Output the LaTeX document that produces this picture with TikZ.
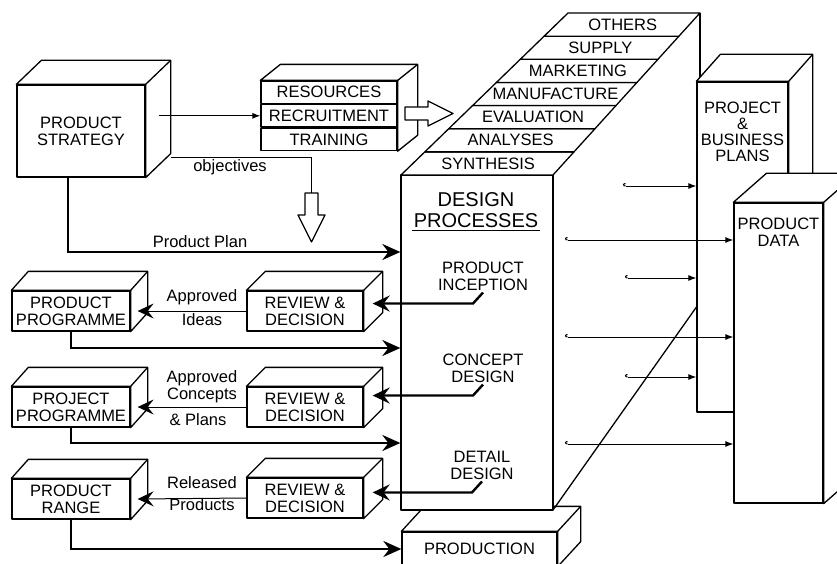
\documentclass[tikz,border=0pt]{standalone}
\usepackage{fontspec}
\setmainfont{Liberation Sans}
\usetikzlibrary{arrows.meta,calc,positioning}
\newcommand\regsize{\fontsize{16.5}{17}\selectfont}
\newcommand\titlesize{\fontsize{20}{21}\selectfont}
\tikzset{>=Stealth,
  every node/.style={font=\regsize,align=center,inner sep=2pt},
  boxline/.style={line width=1.3pt,line join=round},
  frontface/.style={boxline,draw,fill=white},
  rowbox/.style={boxline,draw,fill=white,minimum width=136,minimum height=22.3,inner sep=0pt},
  hollow/.style={boxline,draw,fill=white},
  flow/.style={line width=2.4pt,-{Stealth[length=18pt,width=16pt,inset=6pt]}},
  ret/.style={line width=2.4pt,-{Stealth[length=17pt,width=16pt,inset=6pt]}},
  back/.style={line width=1pt,-{Stealth[length=16pt,width=15pt,inset=6pt]}},
  link/.style={line width=1pt,-{Latex[length=8pt,width=6pt]}},
  feed/.style={line width=1pt,{Hooks[right,length=2.5pt,width=6pt]}-{Latex[length=8pt,width=6pt]}}}
% top and side faces behind a front face (top node, bottom node, depth)
\newcommand\boxsides[4]{%
  \draw[boxline,fill=white] (#1.north west) -- ++(#3,#4) -- ($(#1.north east)+(#3,#4)$)
    -- ($(#2.south east)+(#3,#4)$) -- (#2.south east) -- (#1.north east) -- cycle;
  \draw[boxline] (#1.north east) -- ++(#3,#4);}
\begin{document}
\begin{tikzpicture}[x=1pt,y=-1pt]
\useasboundingbox (0,0) rectangle (837,564);

% production slab
\node[frontface,minimum width=155,minimum height=34] (prod) at (479.5,549) {PRODUCTION};
\boxsides{prod}{prod}{23}{-25}

% design processes block with its layers
\draw[boxline] (553,510) -- (712,285);
\draw[boxline] (700,13) -- (700,100);
\node[frontface,minimum width=152,minimum height=335] (dp) at (477,342.5) {};
\foreach \lab [count=\i from 0] in {SYNTHESIS,ANALYSES,EVALUATION,MANUFACTURE,MARKETING,SUPPLY,OTHERS}{
  \pgfmathsetmacro\yb{175-23.14*\i}
  \pgfmathsetmacro\yt{\yb-23.14}
  \pgfmathsetmacro\ym{(\yb+\yt)/2}
  \draw[boxline,fill=white] ({401+1.031*(175-\yb)},\yb) -- ({401+1.031*(175-\yt)},\yt)
    -- ({553+0.907*(175-\yt)},\yt) -- ({553+0.907*(175-\yb)},\yb) -- cycle;
  \node (layer\i) at ({477+0.969*(175-\ym)},\ym) {\lab};
}
\node[font=\titlesize] (dptitle) at (476,210) {DESIGN\\PROCESSES};
\draw[boxline] ([yshift=-1pt]dptitle.south west) -- ([yshift=-1pt]dptitle.south east);
\node (incep) at (483,276) {PRODUCT\\INCEPTION};
\node (cdes) at (483,368) {CONCEPT\\DESIGN};
\node (ddes) at (482,465) {DETAIL\\DESIGN};

% plans and data
\node[frontface,minimum width=91,minimum height=330] (pbp) at (742.5,247) {};
\boxsides{pbp}{pbp}{24}{-27}
\node[anchor=north,font=\fontsize{16.5}{16}\selectfont] (pbptxt) at ([yshift=-18pt]pbp.north) {PROJECT\\\&\\BUSINESS\\PLANS};
\node[frontface,minimum width=89,minimum height=300] (pd) at (778.5,353) {};
\boxsides{pd}{pd}{33}{-29}
\node[anchor=north] (pdtxt) at ([yshift=-13pt]pd.north) {PRODUCT\\DATA};

% strategy and resources
\node[frontface,minimum width=128,minimum height=92] (ps) at (81,131) {PRODUCT\\STRATEGY};
\boxsides{ps}{ps}{25}{-24}
\node[rowbox] (res1) at (329,92.2) {RESOURCES};
\node[rowbox,below=0pt of res1] (res2) {RECRUITMENT};
\node[rowbox,below=0pt of res2] (res3) {TRAINING};
\boxsides{res1}{res3}{20}{-16}
\draw[hollow] (405,107) -- (428,107) -- (428,101) -- (453,113.5) -- (428,126) -- (428,120) -- (405,120) -- cycle;

% programme boxes and reviews
\node[frontface,minimum width=118,minimum height=40] (pp) at (71,311) {PRODUCT\\PROGRAMME};
\boxsides{pp}{pp}{17}{-19}
\node[frontface,minimum width=116,minimum height=40] (rd1) at (305,311) {REVIEW \&\\DECISION};
\boxsides{rd1}{rd1}{19}{-19}
\node[frontface,minimum width=118,minimum height=40] (pj) at (71,407) {PROJECT\\PROGRAMME};
\boxsides{pj}{pj}{17}{-19}
\node[frontface,minimum width=116,minimum height=40] (rd2) at (305,407) {REVIEW \&\\DECISION};
\boxsides{rd2}{rd2}{19}{-19}
\node[frontface,minimum width=118,minimum height=40] (pr) at (71,499) {PRODUCT\\RANGE};
\boxsides{pr}{pr}{17}{-19}
\node[frontface,minimum width=116,minimum height=40] (rd3) at (305,498) {REVIEW \&\\DECISION};
\boxsides{rd3}{rd3}{19}{-19}

% strategy links
\draw[link] ([xshift=13pt]ps.east |- res2.west) -- (res2.west);
\coordinate (objtip) at (311.5,193);
\draw[line width=1pt] ($(ps.south east)+(25,-20)$) -| (objtip);
\draw[hollow] (305,193) -- (318,193) -- (318,215) -- (325,215) -- (311.5,242) -- (298,215) -- (305,215) -- cycle;
\node (objlab) at (230,167) {objectives};
\draw[flow] ([xshift=-13pt]ps.south) |- (dp.west |- 0,252);
\node (pplab) at (200,242) {Product Plan};

% flows into design processes
\draw[flow] (pp.south) |- (dp.west |- 0,348);
\draw[flow] (pj.south) |- (dp.west |- 0,443);
\draw[flow] (pr.south) |- (prod.west);

% decisions back out
\draw[ret] (incep.south) -- ++(-10,11) coordinate (k1) -- ([xshift=9pt]k1 -| rd1.east);
\draw[ret] (cdes.south) -- ++(-10,11) coordinate (k2) -- ([xshift=9pt]k2 -| rd2.east);
\draw[ret] (ddes.south) -- ++(-10,11) coordinate (k3) -- ([xshift=9pt]k3 -| rd3.east);
\draw[back] (rd1.west) -- ([xshift=7pt]pp.east);
\draw[back] (rd2.west) -- ([xshift=7pt]pj.east);
\draw[back] (rd3.west) -- ([xshift=7pt]pr.east);
\node (a1) at (202,297) {Approved};
\node (a2) at (202,320) {Ideas};
\node (b1) at (202,378) {Approved};
\node (b2) at (202,395) {Concepts};
\node (b3) at (198,420) {\& Plans};
\node (c1) at (202,483) {Released};
\node (c2) at (202,505) {Products};

% outputs to plans and data
\coordinate (s1) at (623,186);
\coordinate (s2) at (565,240);
\coordinate (s3) at (625,278);
\coordinate (s4) at (565,337);
\coordinate (s5) at (625,377);
\coordinate (s6) at (565,444);
\draw[feed] (s1) -- (s1 -| pbp.west);
\draw[feed] (s2) -- (s2 -| pd.west);
\draw[feed] (s3) -- (s3 -| pbp.west);
\draw[feed] (s4) -- (s4 -| pd.west);
\draw[feed] (s5) -- (s5 -| pbp.west);
\draw[feed] (s6) -- (s6 -| pd.west);
\end{tikzpicture}
\end{document}
